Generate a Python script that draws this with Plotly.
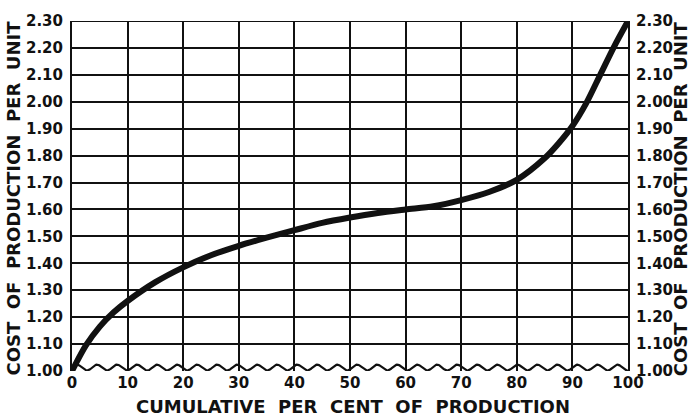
import numpy as np
import plotly.graph_objects as go

# Data
cum_pct = [0, 2.5, 5, 7.5, 10, 15, 20, 25, 30, 35, 40, 45, 50, 55, 60, 65, 70, 75, 80, 85, 87.5, 90, 92.5, 95, 97.5, 100]
cost = [1.00, 1.095, 1.165, 1.218, 1.26, 1.33, 1.385, 1.43, 1.465, 1.495, 1.523, 1.55, 1.57, 1.587, 1.60, 1.612, 1.635, 1.665, 1.71, 1.79, 1.845, 1.91, 1.995, 2.10, 2.205, 2.30]

x_ticks = [0, 10, 20, 30, 40, 50, 60, 70, 80, 90, 100]
y_ticks = [1.00, 1.10, 1.20, 1.30, 1.40, 1.50, 1.60, 1.70, 1.80, 1.90, 2.00, 2.10, 2.20, 2.30]
y_tick_text = ["%.2f" % v for v in y_ticks]

x_title = "CUMULATIVE  PER  CENT  OF  PRODUCTION"
y_title = "COST  OF  PRODUCTION  PER  UNIT"

FONT = "DejaVu Sans"
BLACK = "#111111"

fig = go.Figure()

# decorative wavy bottom border (broken-axis style), kept inside the plot area
wx = np.linspace(0, 100, 800)
wy = 1.0125 + 0.011 * np.sin(2 * np.pi * wx / 3.6)
fig.add_trace(go.Scatter(x=wx, y=wy, mode="lines", line=dict(color=BLACK, width=2.2),
                         hoverinfo="skip", showlegend=False))

fig.add_trace(go.Scatter(x=cum_pct, y=cost, mode="lines",
                         line=dict(color=BLACK, width=6, shape="spline", smoothing=0.8),
                         showlegend=False))

# invisible traces for the right-hand label axis and the grid axis
fig.add_trace(go.Scatter(x=[0, 100], y=[1.0, 2.3], yaxis="y2", mode="markers",
                         marker=dict(opacity=0), hoverinfo="skip", showlegend=False))
fig.add_trace(go.Scatter(x=[0, 100], y=[1.0, 2.3], yaxis="y3", mode="markers",
                         marker=dict(opacity=0), hoverinfo="skip", showlegend=False))

tickfont = dict(family=FONT, size=15, color=BLACK, weight="bold")

fig.update_layout(
    width=694, height=417,
    margin=dict(l=72, r=66, t=14, b=46),
    paper_bgcolor="white", plot_bgcolor="white",
    showlegend=False,
    xaxis=dict(range=[0, 100], tickvals=x_ticks, ticktext=[str(v) for v in x_ticks],
               showgrid=True, gridcolor=BLACK, gridwidth=2, zeroline=False,
               showline=False, ticks="", tickfont=tickfont, ticklabelstandoff=1),
    yaxis=dict(range=[1.0, 2.3], tickvals=y_ticks, ticktext=y_tick_text,
               showgrid=False, zeroline=False,
               showline=True, linecolor=BLACK, linewidth=2, ticks="",
               tickfont=tickfont, ticklabelstandoff=4),
    yaxis2=dict(range=[1.0, 2.3], tickvals=y_ticks, ticktext=y_tick_text,
                overlaying="y", side="right", showgrid=False, zeroline=False,
                showline=True, linecolor=BLACK, linewidth=2, ticks="",
                tickfont=tickfont, ticklabelstandoff=3),
    yaxis3=dict(range=[1.0, 2.3], tickvals=y_ticks[1:], overlaying="y", side="left",
                showgrid=True, gridcolor=BLACK, gridwidth=2, zeroline=False,
                showline=False, ticks="", showticklabels=False),
    shapes=[dict(type="line", xref="x", yref="y", x0=0, x1=100, y0=2.3, y1=2.3,
                 line=dict(color=BLACK, width=2))],
    annotations=[
        dict(text=x_title, xref="paper", yref="paper", x=0.506, y=-0.1,
             showarrow=False, xanchor="center", yanchor="middle",
             font=dict(family=FONT, size=18, color=BLACK, weight="bold")),
        dict(text=y_title, xref="paper", yref="paper", x=-0.106, y=0.493,
             showarrow=False, textangle=-90, xanchor="center", yanchor="middle",
             font=dict(family=FONT, size=18, color=BLACK, weight="bold")),
        dict(text=y_title, xref="paper", yref="paper", x=1.095, y=0.493,
             showarrow=False, textangle=-90, xanchor="center", yanchor="middle",
             font=dict(family=FONT, size=18, color=BLACK, weight="bold")),
    ],
)

fig.write_html("out.html", config={"displayModeBar": False},
               post_script="document.body.style.margin='0';document.body.style.overflow='hidden';")
